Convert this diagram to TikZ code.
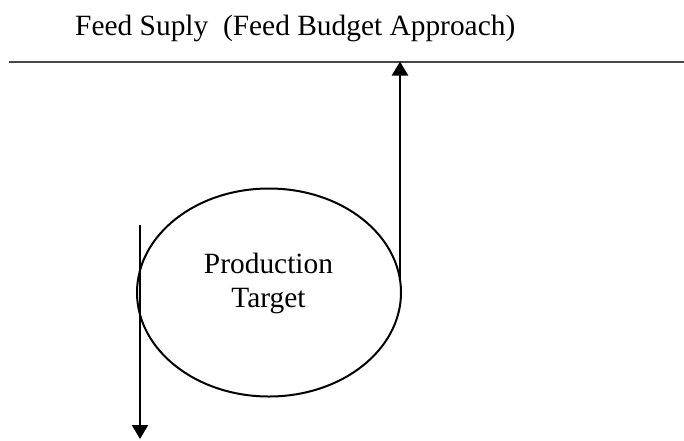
\documentclass[tikz,border=0pt]{standalone}
\usepackage{fontspec}
\setmainfont{Liberation Serif}
\usetikzlibrary{arrows.meta,shapes.geometric}
\begin{document}
\begin{tikzpicture}[x=1pt,y=1pt,
  txt/.style={font=\fontsize{29.4}{34}\selectfont, inner sep=0pt},
  rule/.style={draw=black!72, line width=2pt},
  oval/.style={draw, line width=2pt, ellipse, minimum width=264pt, minimum height=208pt, inner sep=0pt},
  flow/.style={line width=2.3pt, -{Triangle[width=16pt,length=14pt]}}]
\useasboundingbox (0,0) rectangle (684,-440);
% title
\node[txt, anchor=base west] (title) at (75,-35.5) {Feed Suply\ \ (Feed Budget Approach)};
% horizontal rule
\coordinate (hl) at (9,-61.5);
\coordinate (hr) at (684,-61.5);
\draw[rule] (hl) -- (hr);
% ellipse
\node[oval] (pt) at (269,-292.5) {};
\node[txt, align=center, anchor=base] (ptl) at (268.5,-307) {Production\\Target};
% arrows
\coordinate (upstart) at (400,-280);
\draw[flow] (upstart) -- (upstart |- hl);
\coordinate (dnstart) at (140,-225);
\coordinate (dnend) at (140,-439);
\draw[flow] (dnstart) -- (dnend);
\end{tikzpicture}
\end{document}
